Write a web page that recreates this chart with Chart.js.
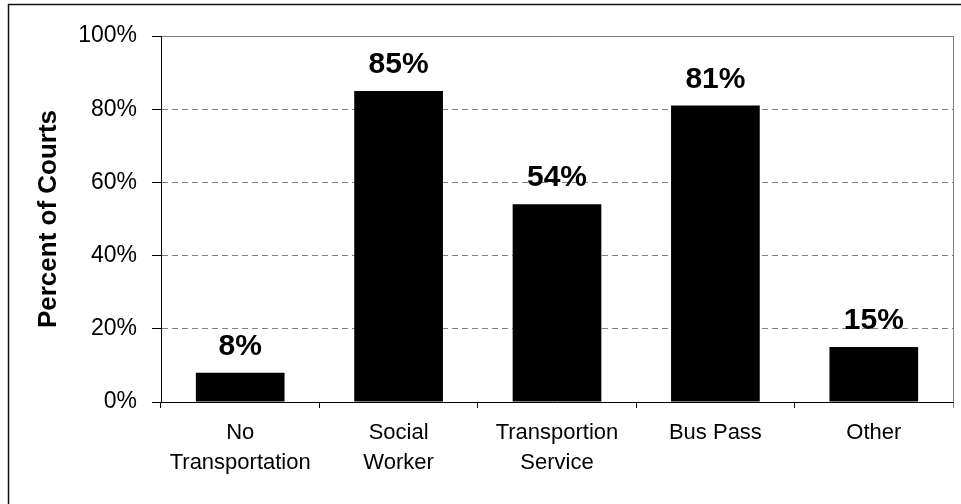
<!DOCTYPE html>
<html>
<head>
<meta charset="utf-8">
<title>Percent of Courts</title>
<script src="https://cdn.jsdelivr.net/npm/chart.js@4.4.1/dist/chart.umd.min.js"></script>
<style>
    html, body { margin: 0; padding: 0; background: #fff; }
    canvas { display: block; }
</style>
</head>
<body>
<canvas id="courtsChart" width="961" height="504"></canvas>
<script>
const categories = [['No', 'Transportation'], ['Social', 'Worker'], ['Transportion', 'Service'], 'Bus Pass', 'Other'];
const percentOfCourts = [8, 85, 54, 81, 15];
const yAxisTitle = 'Percent of Courts';

const fontFamily = '"Liberation Sans", Arial, sans-serif';
const gridGrey = '#808080';

// white page with the thin frame line along the left and top edges
const framePlugin = {
    id: 'frame',
    beforeDraw(chart) {
        const { ctx, width, height } = chart;
        ctx.save();
        ctx.fillStyle = '#fff';
        ctx.fillRect(0, 0, width, height);
        ctx.strokeStyle = '#111';
        ctx.lineWidth = 1.5;
        ctx.beginPath();
        ctx.moveTo(8.5, height);
        ctx.lineTo(8.5, 4.5);
        ctx.lineTo(width, 4.5);
        ctx.stroke();
        ctx.restore();
    },
};

// bold percentage written above each bar
const valueLabelPlugin = {
    id: 'valueLabels',
    afterDatasetsDraw(chart) {
        const { ctx } = chart;
        const meta = chart.getDatasetMeta(0);
        const values = chart.data.datasets[0].data;
        ctx.save();
        ctx.fillStyle = '#000';
        ctx.font = `bold 30px ${fontFamily}`;
        ctx.textAlign = 'center';
        ctx.textBaseline = 'alphabetic';
        meta.data.forEach((bar, i) => {
            ctx.fillText(`${values[i]}%`, bar.x, bar.y - 18);
        });
        ctx.restore();
    },
};

function init() {
    Chart.defaults.font.family = fontFamily;
    Chart.defaults.color = '#000';

    const ctx = document.getElementById('courtsChart').getContext('2d');
    new Chart(ctx, {
        type: 'bar',
        data: {
            labels: categories,
            datasets: [
                {
                    data: percentOfCourts,
                    backgroundColor: '#000',
                    borderWidth: 0,
                    categoryPercentage: 1,
                    barPercentage: 0.56,
                },
            ],
        },
        options: {
            responsive: false,
            animation: false,
            layout: {
                padding: { top: 36, right: 8, bottom: 0, left: 0 },
            },
            plugins: {
                legend: { display: false },
                tooltip: { enabled: false },
            },
            scales: {
                x: {
                    ticks: {
                        color: '#000',
                        font: { size: 22, lineHeight: 1.36 },
                        padding: 10,
                        maxRotation: 0,
                        autoSkip: false,
                    },
                    grid: {
                        offset: true,
                        color: (c) => (c.type === 'scale' ? gridGrey : 'rgba(0,0,0,0)'),
                        tickColor: (c) => (c.type === 'scale' ? gridGrey : '#000'),
                        tickLength: 6,
                    },
                    border: { color: '#000', width: 1 },
                    afterFit: (scale) => {
                        scale.height = 102;
                    },
                },
                y: {
                    min: 0,
                    max: 100,
                    ticks: {
                        stepSize: 20,
                        padding: 15,
                        color: '#000',
                        font: { size: 23 },
                        callback: (value) => `${value}%`,
                    },
                    grid: {
                        color: (c) => (c.tick && c.tick.value === 0 ? 'rgba(0,0,0,0)' : gridGrey),
                        tickColor: '#000',
                        tickLength: 9,
                    },
                    border: {
                        color: '#000',
                        width: 1,
                        dash: (c) => (c.tick && c.tick.value > 0 && c.tick.value < 100 ? [6, 4] : []),
                    },
                    title: {
                        display: true,
                        text: yAxisTitle,
                        color: '#000',
                        font: { size: 26, weight: 'bold' },
                        padding: { top: 33, bottom: 0 },
                    },
                    afterFit: (scale) => {
                        scale.width = 161;
                    },
                },
            },
        },
        plugins: [framePlugin, valueLabelPlugin],
    });
}

document.addEventListener('DOMContentLoaded', init);
</script>
</body>
</html>
